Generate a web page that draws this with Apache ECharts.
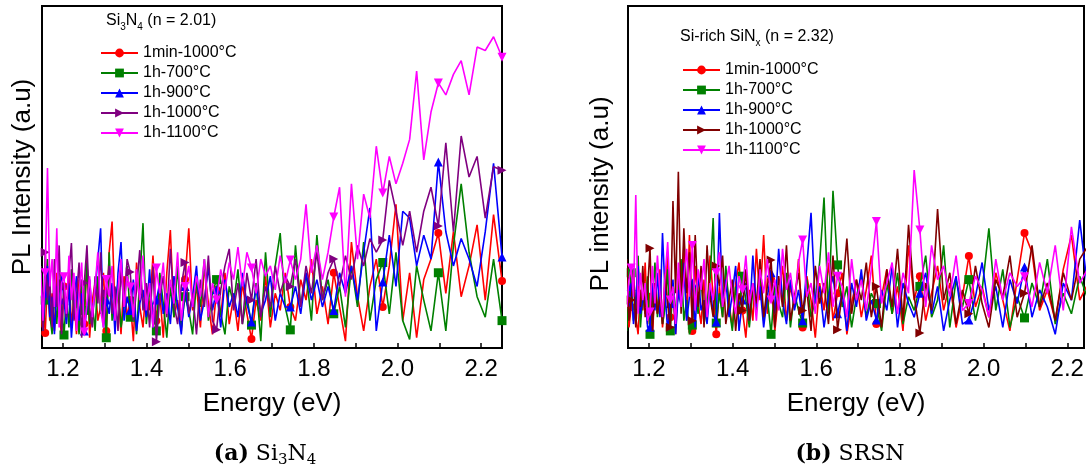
<!DOCTYPE html>
<html><head><meta charset="utf-8">
<script src="https://cdn.jsdelivr.net/npm/echarts@6/dist/echarts.min.js"></script>
<style>html,body{margin:0;padding:0;background:#fff}#chart{width:1088px;height:470px}</style>
</head><body><div id="chart"></div>
<script>
// Spectra are sampled on a uniform wavelength grid and plotted against photon energy.
const wavelengthStartNm = 1091.1;
const wavelengthStepNm = 5;
const pointCount = 109;
const markerEvery = 8;
const markerOffset = 4;

const seriesNames = ['1min-1000°C', '1h-700°C', '1h-900°C', '1h-1000°C', '1h-1100°C'];
const tickValues = [1.2, 1.3, 1.4, 1.5, 1.6, 1.7, 1.8, 1.9, 2.0, 2.1, 2.2];
const tickLabels = [1.2, 1.4, 1.6, 1.8, 2.0, 2.2];

// Panel (a) Si3N4 — PL intensity (a.u., 0–100 of plot height), low energy -> high energy
const a_1min1000 = [10,18,6,14,4.4,20,8,16, 5,22,12,3,18,9,24,6, 15,4,20,11,7,26,3,14, 19,8,12,22,5,28,37,10,
  17,4,21,9,14,2,25,12, 6,19,11,27,8,16,3,22, 34.5,9,14,5,20,35,11,18, 6,24,13,4,17,9,22,7, 15,5,19,10,2.6,14,8,21,
  6,16,11,22, 12,8,20,14,26,10,18,7, 22,12,2,31,15,5,18,26, 12,24,42,8,22,3,20,26, 33.6,16,34,15,24,36,14,39, 19.6];
const a_1h700 = [18,8,22,5,14,26,10,4, 16,7,20,12,3.8,15,6,23, 9,14,4,19,11,25,7,13, 5,21,10,16,3,28,8,14,
  19,6,12,24,9,15,4,20, 36.5,7,17,11,5,22,13,3, 18,9,24,6,15,11,4,20, 12,26,8,16,20,10,4,18, 13,23,7,15,6.7,19,2,28,
  9,24,33.6,12, 5.3,30,12,22,8,33,14,20, 10,18,6,24,12,31,8,20, 25,10,28,8,2.5,24,14,5, 22,5,30,48,28,15,9,26, 8];
const a_1h900 = [28,12,20,6,16,24,9,15, 4,18,11,22,14,7,19,3, 13,21,8,16,5,12,20,9, 17,26,35,6,14,10,19,4,
  22,31,8,15,11,20,5,13, 17,9,23,6,14,19,10,16, 7,21,12,4,18,9,15,24, 8,14,23.7,11,17,6,20,12, 16,9,22,13,7.6,18,10,14,
  21,8,16,12, 12,18,10,22,14,20,12,18, 11,22,16,24,14,28,41,5, 19.3,33,18,40,38,24,33,26, 54.4,34,24,32,26,18,34,54, 26.6];
const a_1h1000 = [35,10,24,5,28,14,20,6, 26,12,30,4,18,9,22,30.7, 8,15,25,3,19,30,11,6, 21,13,28,7,16,24,10,18,
  5,23,12,26,22.2,8,17,28.6, 11,19,6,24,1.8,15,21,9, 29,13,7,18,25,10,16,4, 20,12,27,8,5.3,17,24,29, 11,19,7,22,14,26,9,18,
  12,24,16,21, 18,26,12,24,16,28,14,22, 26,18,27,20,30,24,32,28, 31.6,49,40,30,40,28,40,47, 35.7,60,34,62,50,56,38,53, 52];
const a_1h1100 = [30,15,22,8,22,52.6,18,26, 12,35,6,19,20.8,10,27,14, 22,5,16,25,4.7,13,21,9, 18,28,11,6,20,15,24,8,
  17,26,12,21,17.8,9,23,14, 27,11,19,6,23.4,16,25,10, 20,13,28,8,18,24,12,21, 15,26,9,19,14,23,17,25, 20,29.5,18,28,23.4,16,26,21,
  24,17,27,19, 25.7,20,26,42,22,30,20,28, 38.3,47,15,48,26,45,38,59, 45.3,56,48,54,61,81,55,69, 77.5,74,80,84,74,88,87,91, 85];

// Panel (b) SRSN
const b_1min1000 = [14,8,20,6,12,22,9,4, 17,11,25,7,15,3,19,10, 23,6,14,28,9,16,4,21, 12,30,8,33,5,24,13,7,
  20,10,27,15,4,18,9,22, 13,6,19,25,11,3,17,8, 29,14,33,10,20,5,16,24, 8,18,12,26,6,21,14,3, 19,11,25,8,16,22,4,13,
  20,9,17,27, 7,15,23,10,18,5,30,14, 21,8,16,24,11,19,6,15, 26.9,12,18,9,22,14,5,20, 33.6,28,11,17,8,23,33,14, 19];
const b_1h700 = [10,18,5,15,22,8,12,27, 6,16,10,21,4,14,25,9, 17,7,12,23,5,19,11,15, 26,8,14,4,6.7,18,10,22,
  7,13,20,38,7.3,16,9,24, 12,5,18,10,21,14,6,17, 11,23,8,15,4,19,13,9, 22,6,16,11,7.3,20,9,14, 25,44,10,46,24.3,12,18,6,
  15,21,9,16, 13,5,19,10,22,7,15,11, 18,27,9,14,30,6,20,12, 20,8,17,35,11,23,6,15, 8.8,19,12,26,7,16,10,21, 14];
const b_1h900 = [16,9,21,12,18,7,14,24, 10,14,15,6,6.1,19,11,22, 9,33.6,16,5,13,20,4,17, 12,25,8,15,19,6,22,11,
  14,7,18,10,7.6,39.5,13,20, 9,16,24,5,14,19,8,27, 12,18,6,15,22,10,29,14, 7,20,11,17,8,24,39.5,13, 18,6,15,21,10,16,5,19,
  12,23,8,14, 8.2,17,11,24,6,19,13,9, 16,22,10,18,5,14,21,7, 8.2,15,25,11,18,6,20,13, 23.7,9,17,12,4,19,14,37.4, 16];
const b_1h1000 = [20,11,26,8,14,22,6,18, 12,24,9,17,29.2,5,19,10, 15,7,22,13,6.1,43,16,51.5, 10,35,16,28,8,33,12,24,
  6,30,15,9,24,18,27,7, 14,20,5,16,11,23,8,19, 13,26,9,18,25.7,6,21,12, 30,8,15,22,11,17,5,24, 13,19,7,27,5.3,16,32,10,
  20,14,25,9, 18,6,23,12,29,8,36,15, 4.4,19,11,40.6,14,22,7,17, 10,24,13,6,20,15,27,9, 16,30,12,19,8,22,14,26, 30];
const b_1h1100 = [18,25,12,20,23.4,15,44.7,10, 22,14,19,8,10.5,24,13,27, 16,9,21,31,14,18,7,25, 12,20,29,15,30,11,23,17,
  26,9,19,14,22,28,12,18, 24,15,10,21,17,27,13,19, 8,23,16,26,14,20,11,29, 17,22,13,25,31.6,15,19,10, 24,16,28,12,21,18,9,26,
  14,20,11,23, 37,13,19,25,10,22,16,52, 34.5,12,30,20,24,15,27,11, 13,21,17,9,26,14,22,18, 20.8,12,25,16,30,11,35.4,19, 23.4];

const energyEv = [];
for (let i = 0; i < pointCount; i++) energyEv.push(1240 / (wavelengthStartNm - wavelengthStepNm * i));

const FONT = 'Liberation Sans';
const colorsA = ['#ff0000', '#008000', '#0000ff', '#800080', '#ff00ff'];
const colorsB = ['#ff0000', '#008000', '#0000ff', '#800000', '#ff00ff'];
const symbols = ['circle', 'rect', 'triangle', 'path://M0,0 L10,5 L0,10 Z', 'path://M0,0 L10,0 L5,10 Z'];
const panelA = [a_1min1000, a_1h700, a_1h900, a_1h1000, a_1h1100];
const panelB = [b_1min1000, b_1h700, b_1h900, b_1h1000, b_1h1100];

function makeSeries(prefix, idx, values, k, colors) {
  return {
    type: 'line', name: prefix + '|' + seriesNames[k], xAxisIndex: idx, yAxisIndex: idx,
    data: values.map((v, i) => ({ value: [energyEv[i], v], symbol: (i % markerEvery === markerOffset) ? symbols[k] : 'none' })),
    symbol: symbols[k], symbolSize: k === 0 ? 8 : 9, showSymbol: true,
    lineStyle: { width: 1.6, color: colors[k] }, itemStyle: { color: colors[k] },
    clip: true, animation: false, z: 2 + k
  };
}
const series = [];
panelA.forEach((v, k) => series.push(makeSeries('a', 0, v, k, colorsA)));
panelB.forEach((v, k) => series.push(makeSeries('b', 1, v, k, colorsB)));

function xAxis(gi, max) {
  return {
    gridIndex: gi, type: 'value', min: 1.15, max: max,
    axisLine: { show: true, lineStyle: { color: '#000', width: 2 } },
    axisTick: { show: true, inside: true, length: 5, customValues: tickValues, lineStyle: { color: '#000', width: 1.5 } },
    axisLabel: { customValues: tickLabels, formatter: v => Number(v).toFixed(1), fontSize: 24, fontFamily: FONT, color: '#000', margin: 9 },
    splitLine: { show: false },
    name: 'Energy (eV)', nameLocation: 'middle', nameGap: 43,
    nameTextStyle: { fontSize: 26, fontFamily: FONT, color: '#000' }
  };
}
function yAxis(gi, name, gap, pad) {
  return {
    gridIndex: gi, type: 'value', min: 0, max: 100,
    axisLine: { show: true, lineStyle: { color: '#000', width: 2 } },
    axisTick: { show: false }, axisLabel: { show: false }, splitLine: { show: false },
    name: name, nameLocation: 'middle', nameGap: gap,
    nameTextStyle: { fontSize: 26, fontFamily: FONT, color: '#000', padding: pad }
  };
}
function legend(prefix, left, top) {
  return {
    data: seriesNames.map(n => prefix + '|' + n), orient: 'vertical', left: left, top: top, padding: 0,
    itemGap: 4, itemWidth: 37, itemHeight: 11, selectedMode: false,
    formatter: n => n.split('|')[1],
    textStyle: { fontSize: 16, fontFamily: FONT, color: '#000' }
  };
}
const headRich = {
  n: { fontSize: 16, fontFamily: FONT, lineHeight: 22, fill: '#000' },
  s: { fontSize: 10, fontFamily: FONT, lineHeight: 10, verticalAlign: 'bottom', fill: '#000' }
};
const capRich = {
  b: { fontSize: 22, fontFamily: 'DejaVu Serif', fontWeight: 'bold', lineHeight: 28, fill: '#000' },
  n: { fontSize: 22, fontFamily: 'DejaVu Serif', lineHeight: 28, fill: '#000' },
  s: { fontSize: 15, fontFamily: 'DejaVu Serif', lineHeight: 16, verticalAlign: 'bottom', fill: '#000' }
};

const chart = echarts.init(document.getElementById('chart'), null, { renderer: 'canvas' });
chart.setOption({
  animation: false,
  backgroundColor: '#fff',
  grid: [
    { left: 42, top: 6, width: 460, height: 342, show: true, borderColor: '#000', borderWidth: 2, containLabel: false },
    { left: 628, top: 6, width: 456, height: 342, show: true, borderColor: '#000', borderWidth: 2, containLabel: false }
  ],
  xAxis: [xAxis(0, 2.25), xAxis(1, 2.24)],
  yAxis: [yAxis(0, 'PL Intensity (a.u)', 6, [0, 0, 0, 0]), yAxis(1, 'PL intensity (a.u)', 14, [0, 34, 0, 0])],
  legend: [legend('a', 100, 45), legend('b', 682, 62)],
  series: series,
  graphic: [
    { type: 'text', left: 106, top: 13, style: { text: '{n|Si}{s|3}{n|N}{s|4}{n| (n = 2.01)}', rich: headRich } },
    { type: 'text', left: 680, top: 29, style: { text: '{n|Si-rich SiN}{s|x}{n| (n = 2.32)}', rich: headRich } },
    { type: 'text', x: 265, y: 454, style: { text: '{b|(a)}{n| Si}{s|3}{n|N}{s|4}', rich: capRich, align: 'center', verticalAlign: 'middle' } },
    { type: 'text', x: 850, y: 454, style: { text: '{b|(b)}{n| SRSN}', rich: capRich, align: 'center', verticalAlign: 'middle' } }
  ]
});
</script></body></html>
